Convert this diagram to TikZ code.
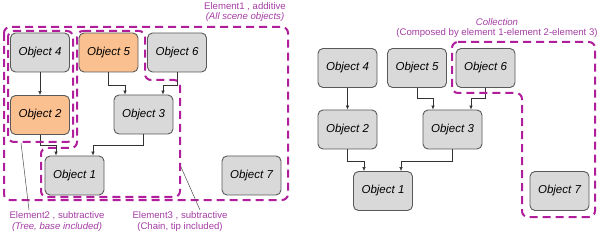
\documentclass[tikz,border=0pt]{standalone}
\usepackage{fontspec}
\setmainfont{Liberation Sans}
\usetikzlibrary{arrows.meta}
\definecolor{boxgray}{HTML}{D9D9D9}
\definecolor{boxorange}{HTML}{FAC090}
\definecolor{boxedge}{HTML}{595959}
\definecolor{dashmag}{HTML}{B01E9C}
\definecolor{labmag}{HTML}{A43CA4}
\tikzset{
  obj/.style={draw=boxedge, line width=0.9pt, fill=boxgray, rounded corners=5pt,
    minimum width=59pt, minimum height=39pt, inner sep=0pt,
    font=\fontsize{11.5}{13}\selectfont\itshape},
  objo/.style={obj, fill=boxorange},
  conn/.style={draw=black!80, line width=0.5pt, -{Latex[length=4pt,width=3.5pt]}},
  grp/.style={draw=dashmag, line width=2pt, dash pattern=on 8pt off 5pt, rounded corners=6pt},
  lab/.style={text=labmag, font=\fontsize{9.6}{10.8}\selectfont, align=center, inner sep=0pt},
  lead/.style={draw=black!70, line width=0.5pt}
}
\begin{document}
\begin{tikzpicture}[x=1pt,y=-1pt]
\useasboundingbox (0,0) rectangle (600,235);
% ---------- left diagram ----------
\node[obj]  (L4) at (40,52.5) {Object 4};
\node[objo] (L5) at (108.5,52.5) {Object 5};
\node[obj]  (L6) at (177,52.5) {Object 6};
\node[objo] (L2) at (40,115) {Object 2};
\node[obj]  (L3) at (143.5,114.5) {Object 3};
\node[obj]  (L1) at (74.5,175.5) {Object 1};
\node[obj]  (L7) at (251.5,175.5) {Object 7};
\draw[conn] (L4) -- (L2);
\draw[conn] (L5.south) |- (125,85) -- (L3.north -| 125,0);
\draw[conn] (L6.south) |- (163,85) -- (L3.north -| 163,0);
\draw[conn] (L2.south) |- (56,145) -- (L1.north -| 56,0);
\draw[conn] (L3.south) |- (93,145) -- (L1.north -| 93,0);
% groups
\draw[grp] (4,27) rectangle (288,200);
\draw[grp] (8,31) rectangle (73,142);
\draw[grp] (77,31) -- (145,31) -- (145,80) -- (180,80) -- (180,197) -- (41,197) -- (41,148) -- (77,148) -- cycle;
% labels
\node[lab] (E1) at (245,12) {Element1 , additive\\\itshape(All scene objects)};
\node[lab] (E2) at (57,221.5) {Element2 , subtractive\\\itshape(Tree, base included)};
\node[lab] (E3) at (180,221.5) {Element3 , subtractive\\(Chain, tip included)};
\coordinate (E2a) at (21,143);
\coordinate (E2b) at (29,210);
\coordinate (E3a) at (181,167);
\coordinate (E3b) at (200,210);
\draw[lead] (E2a) -- (E2b);
\draw[lead] (E3a) -- (E3b);
% ---------- right diagram ----------
\node[obj] (R4) at (347.5,68) {Object 4};
\node[obj] (R5) at (417,68) {Object 5};
\node[obj] (R6) at (485.5,68) {Object 6};
\node[obj] (R2) at (347.5,129.5) {Object 2};
\node[obj] (R3) at (452.5,129.5) {Object 3};
\node[obj] (R1) at (383,191) {Object 1};
\node[obj] (R7) at (559.5,191) {Object 7};
\draw[conn] (R4) -- (R2);
\draw[conn] (R5.south) |- (433,98) -- (R3.north -| 433,0);
\draw[conn] (R6.south) |- (471,98) -- (R3.north -| 471,0);
\draw[conn] (R2.south) |- (364,161) -- (R1.north -| 364,0);
\draw[conn] (R3.south) |- (401,161) -- (R1.north -| 401,0);
\draw[grp] (452,42) -- (595,42) -- (595,217) -- (522,217) -- (522,93) -- (452,93) -- cycle;
\node[lab] (C) at (497,28) {\itshape Collection\\(Composed by element 1-element 2-element 3)};
\end{tikzpicture}
\end{document}
